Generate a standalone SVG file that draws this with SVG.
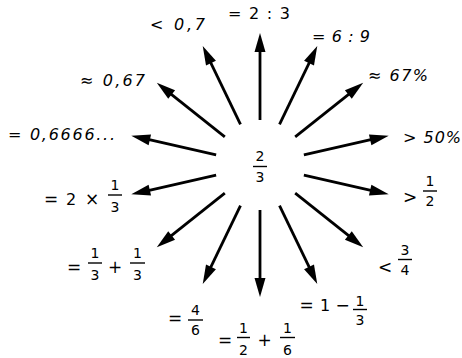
<svg xmlns="http://www.w3.org/2000/svg" width="462" height="358" viewBox="0 0 462 358">
<style>
text{font-family:"DejaVu Sans","Liberation Sans",sans-serif;font-size:16px;fill:#000}
.it{font-style:italic}
.op{font-size:17px;text-anchor:middle}
.c{text-anchor:middle;font-size:14px}
.bar{stroke:#000;stroke-width:1.4}
.ar line{stroke:#000;stroke-width:2.8}
.ar polygon{fill:#000}
</style>
<defs>
<g id="arrow" class="ar"><line x1="260" y1="120" x2="260" y2="48"/><polygon points="260,33 254.5,52 265.5,52"/></g>
</defs>
<rect width="462" height="358" fill="#fff"/>
<g id="connectors">
<use href="#arrow"/>
<use href="#arrow" transform="rotate(25.714 260 165)"/>
<use href="#arrow" transform="rotate(51.429 260 165)"/>
<use href="#arrow" transform="rotate(77.143 260 165)"/>
<use href="#arrow" transform="rotate(102.857 260 165)"/>
<use href="#arrow" transform="rotate(128.571 260 165)"/>
<use href="#arrow" transform="rotate(154.286 260 165)"/>
<use href="#arrow" transform="rotate(180 260 165)"/>
<use href="#arrow" transform="rotate(205.714 260 165)"/>
<use href="#arrow" transform="rotate(231.429 260 165)"/>
<use href="#arrow" transform="rotate(257.143 260 165)"/>
<use href="#arrow" transform="rotate(282.857 260 165)"/>
<use href="#arrow" transform="rotate(308.571 260 165)"/>
<use href="#arrow" transform="rotate(334.286 260 165)"/>
</g>
<g id="center">
<text class="c" x="260" y="161">2</text><line class="bar" x1="253" y1="166.5" x2="267" y2="166.5"/><text class="c" x="260" y="182">3</text>
</g>
<g id="n-2-3"><text x="228" y="19" textLength="62" lengthAdjust="spacing">= 2 : 3</text></g>
<g id="n-6-9"><text class="it" x="312" y="42" textLength="58" lengthAdjust="spacing">= 6 : 9</text></g>
<g id="n-67pct"><text class="it" x="368" y="81" textLength="60" lengthAdjust="spacing">≈ 67%</text></g>
<g id="n-50pct"><text class="it" x="403" y="143" textLength="58" lengthAdjust="spacing">&gt; 50%</text></g>
<g id="n-07"><text class="it" x="150" y="30" textLength="55" lengthAdjust="spacing">&lt; 0,7</text></g>
<g id="n-067"><text class="it" x="80" y="86" textLength="65" lengthAdjust="spacing">≈ 0,67</text></g>
<g id="n-06666"><text class="it" x="8" y="140" textLength="107" lengthAdjust="spacing">= 0,6666...</text></g>
<g id="n-half">
<text class="op" x="410" y="203">&gt;</text>
<text class="c" x="430" y="186">1</text><line class="bar" x1="423" y1="191" x2="437" y2="191"/><text class="c" x="430" y="206">2</text>
</g>
<g id="n-3-4">
<text class="op" x="385" y="273">&lt;</text>
<text class="c" x="405" y="255">3</text><line class="bar" x1="398" y1="259.5" x2="412" y2="259.5"/><text class="c" x="405" y="275">4</text>
</g>
<g id="n-1-minus">
<text class="op" x="306.5" y="311">=</text>
<text x="325" y="311" text-anchor="middle">1</text>
<text class="op" x="342.5" y="311">−</text>
<text class="c" x="360" y="306">1</text><line class="bar" x1="353" y1="309.5" x2="367" y2="309.5"/><text class="c" x="360" y="325">3</text>
</g>
<g id="n-half-sixth">
<text class="op" x="225" y="346">=</text>
<text class="c" x="243.5" y="333">1</text><line class="bar" x1="237" y1="337.5" x2="250" y2="337.5"/><text class="c" x="243.5" y="355">2</text>
<text class="op" x="264.5" y="346">+</text>
<text class="c" x="287.5" y="333">1</text><line class="bar" x1="280" y1="337.5" x2="295" y2="337.5"/><text class="c" x="287.5" y="355">6</text>
</g>
<g id="n-4-6">
<text class="op" x="175" y="324">=</text>
<text class="c" x="195.5" y="315">4</text><line class="bar" x1="188" y1="320" x2="203" y2="320"/><text class="c" x="195.5" y="335">6</text>
</g>
<g id="n-third-third">
<text class="op" x="74" y="273">=</text>
<text class="c" x="95" y="258">1</text><line class="bar" x1="88" y1="263" x2="102" y2="263"/><text class="c" x="95" y="280">3</text>
<text class="op" x="115" y="273">+</text>
<text class="c" x="137.5" y="258">1</text><line class="bar" x1="130" y1="263" x2="145" y2="263"/><text class="c" x="137.5" y="280">3</text>
</g>
<g id="n-2x-third">
<text class="op" x="51" y="205">=</text>
<text x="71" y="205" text-anchor="middle">2</text>
<text class="op" x="92" y="205">×</text>
<text class="c" x="115" y="190">1</text><line class="bar" x1="108" y1="195" x2="122" y2="195"/><text class="c" x="115" y="212">3</text>
</g>
</svg>
